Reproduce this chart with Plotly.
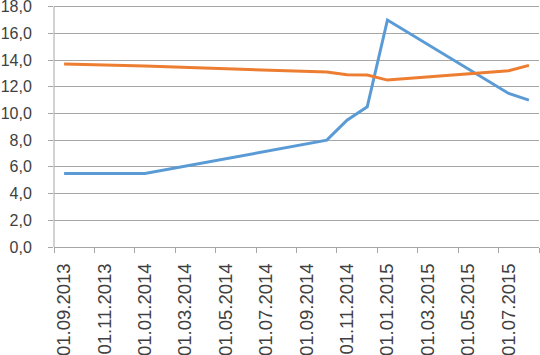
import pandas as pd
import plotly.graph_objects as go

# Data
dates = ["01.09.2013", "01.01.2014", "01.10.2014", "01.11.2014", "01.12.2014",
         "01.01.2015", "01.07.2015", "01.08.2015"]
series_blue = [5.5, 5.5, 8.0, 9.5, 10.5, 17.0, 11.5, 11.0]
series_orange = [13.7, 13.55, 13.1, 12.9, 12.88, 12.5, 13.2, 13.6]
tick_labels = ["01.09.2013", "01.11.2013", "01.01.2014", "01.03.2014", "01.05.2014",
               "01.07.2014", "01.09.2014", "01.11.2014", "01.01.2015", "01.03.2015",
               "01.05.2015", "01.07.2015"]
y_ticks = [0, 2, 4, 6, 8, 10, 12, 14, 16, 18]

start = pd.Timestamp(2013, 9, 1)


def month_index(s):
    d = pd.to_datetime(s, format="%d.%m.%Y")
    return (d.year - start.year) * 12 + d.month - start.month


x = [month_index(d) for d in dates]
label_pos = [month_index(t) for t in tick_labels]
n_months = 24
bounds = [i - 0.5 for i in range(0, n_months + 1, 2)]

GRID = "#a6a6a6"
FONT = dict(family="Liberation Sans, Arial, sans-serif", size=16, color="#404040")
XFONT = dict(family="Liberation Sans, Arial, sans-serif", size=18.5, color="#404040")

fig = go.Figure()
fig.add_trace(go.Scatter(x=x, y=series_blue, mode="lines", cliponaxis=False,
                         line=dict(color="#5B9BD5", width=3), showlegend=False))
fig.add_trace(go.Scatter(x=x, y=series_orange, mode="lines", cliponaxis=False,
                         line=dict(color="#ED7D31", width=3), showlegend=False))
# invisible trace to activate second x axis
fig.add_trace(go.Scatter(x=[label_pos[0]], y=[0], mode="markers", xaxis="x2",
                         marker=dict(opacity=0), showlegend=False, hoverinfo="skip"))

rng = [-0.5, n_months - 0.5]
fig.update_layout(
    width=540, height=355,
    margin=dict(l=54, r=1, t=4.3, b=108, autoexpand=False),
    paper_bgcolor="white", plot_bgcolor="white",
    font=FONT,
    xaxis=dict(range=rng, autorange=False, tickmode="array", tickvals=bounds,
               showticklabels=False, automargin=False,
               ticks="outside", ticklen=5, tickcolor=GRID, tickwidth=1,
               showline=True, linecolor=GRID, linewidth=1, showgrid=False,
               zeroline=False),
    xaxis2=dict(range=rng, autorange=False, overlaying="x", anchor="y", side="bottom",
                tickmode="array", tickvals=label_pos, ticktext=tick_labels,
                tickangle=-90, ticks="outside", ticklen=8, automargin=False,
                tickcolor="rgba(0,0,0,0)", showline=False, showgrid=False,
                zeroline=False, tickfont=XFONT),
    yaxis=dict(range=[0, 18.2], autorange=False, tickmode="array", tickvals=y_ticks,
               ticktext=[f"{v:.1f}".replace(".", ",") for v in y_ticks],
               showgrid=True, gridcolor=GRID, gridwidth=1, automargin=False,
               ticks="outside", ticklen=5, tickcolor=GRID,
               showline=False, zeroline=False, ticklabeloverflow="allow",
               ticklabelstandoff=13, tickfont=FONT),
    shapes=[dict(type="line", xref="paper", yref="y", x0=0, x1=0, y0=0, y1=18,
                 line=dict(color=GRID, width=1))],
)

fig.write_html("out.html", config={"displayModeBar": False, "staticPlot": True},
               post_script="document.body.style.margin='0';document.body.style.overflow='hidden';")
